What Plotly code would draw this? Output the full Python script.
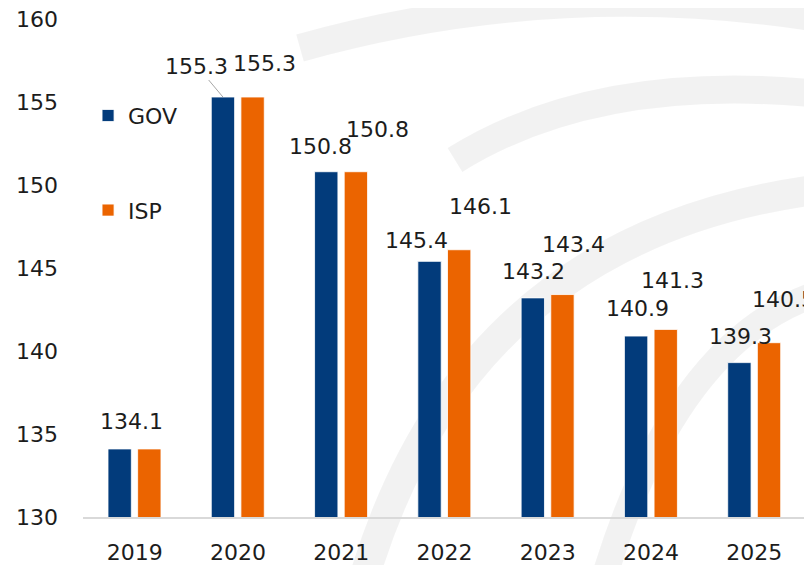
import plotly.graph_objects as go

years = ["2019", "2020", "2021", "2022", "2023", "2024", "2025"]
gov = [134.1, 155.3, 150.8, 145.4, 143.2, 140.9, 139.3]
isp = [134.1, 155.3, 150.8, 146.1, 143.4, 141.3, 140.5]

# label placement offsets (pixels) relative to category centre / bar top
gov_dx = [-3, -41, -21, -28, -14, -14, -14]
gov_dy = [27, 29, 25, 21, 26, 28, 26]
isp_dx = [-3, 27, 36, 36, 26, 21, 29]
isp_dy = [27, 34, 42, 43, 50, 49, 43]

GOV_C = "#023B7B"
ISP_C = "#EB6400"
TXT = "#1c1c1c"
FONT = "DejaVu Sans"
FS = 22

# page body has an 8px margin, so the figure is sized to end at the window edge
OFF = 8
W, H = 812 - OFF, 565 - OFF
L, R, T, B = 83 - OFF, 6, 19 - OFF, 48
PW, PH = W - L - R, H - T - B


def px(x, y):
    xf, yf = x - OFF, y - OFF
    return ((xf - L) / PW, (H - B - yf) / PH)


def arc(p0, c, p1):
    a, b, d = px(*p0), px(*c), px(*p1)
    return f"M {a[0]},{a[1]} Q {b[0]},{b[1]} {d[0]},{d[1]}"


fig = go.Figure()
fig.add_trace(go.Bar(x=years, y=gov, name="GOV", marker=dict(color=GOV_C, line=dict(color="white", width=0.8)),
                     width=0.226, offset=-0.258, legendgroup="g"))
fig.add_trace(go.Bar(x=years, y=isp, name="ISP", marker=dict(color=ISP_C, line=dict(color="white", width=0.8)),
                     width=0.226, offset=0.029, legendgroup="i"))

ann = []
for i, yr in enumerate(years):
    if yr == "2020":
        ann.append(dict(x=i, y=gov[i], xref="x", yref="y", text=f"{gov[i]:.1f}", xshift=-15,
                        showarrow=True, arrowhead=0, arrowwidth=1, arrowcolor="#a6a6a6",
                        ax=-26, ay=-31, standoff=0, font=dict(size=FS, color=TXT, family=FONT)))
    else:
        ann.append(dict(x=i, y=gov[i], xref="x", yref="y", text=f"{gov[i]:.1f}", showarrow=False,
                        xshift=gov_dx[i], yshift=gov_dy[i], xanchor="center", yanchor="middle",
                        font=dict(size=FS, color=TXT, family=FONT)))
    if yr == "2019":
        continue  # ISP label coincides with the GOV one in the reference
    ann.append(dict(x=i, y=isp[i], xref="x", yref="y", text=f"{isp[i]:.1f}", showarrow=False,
                    xshift=isp_dx[i], yshift=isp_dy[i], xanchor="center", yanchor="middle",
                    font=dict(size=FS, color=TXT, family=FONT)))

wm = "rgba(0,0,0,0.05)"
shapes = [
    dict(type="path", path=arc((300, 48), (560, -25), (830, 20)), line=dict(color=wm, width=28)),
    dict(type="path", path=arc((455, 160), (600, 70), (830, 95)), line=dict(color=wm, width=28)),
    dict(type="path", path=arc((365, 575), (470, 230), (830, 188)), line=dict(color=wm, width=30)),
    dict(type="path", path=arc((605, 575), (680, 330), (830, 290)), line=dict(color=wm, width=26)),
]
for s in shapes:
    s.update(xref="paper", yref="paper", layer="below")

fig.update_layout(
    width=W, height=H,
    margin=dict(l=L, r=R, t=T, b=B, pad=0, autoexpand=False),
    paper_bgcolor="white", plot_bgcolor="rgba(0,0,0,0)",
    barmode="overlay",
    font=dict(family=FONT, size=FS, color=TXT),
    showlegend=True,
    legend=dict(x=0.007, y=0.848, xanchor="left", yanchor="top", bgcolor="rgba(0,0,0,0)",
                font=dict(size=FS, color=TXT, family=FONT), traceorder="grouped",
                tracegroupgap=63),
    annotations=ann,
    shapes=shapes,
)
fig.update_xaxes(type="category", range=[-0.5, 6.5], automargin=False, showgrid=False, zeroline=False,
                 showline=True, linecolor="#d9d9d9", linewidth=1.5, ticks="", ticklabelstandoff=15,
                 ticklabeloverflow="allow", tickfont=dict(size=FS, color=TXT, family=FONT))
fig.update_yaxes(range=[130, 160], dtick=5, tick0=130, automargin=False, showgrid=False, zeroline=False,
                 showline=False, ticks="", ticklabelstandoff=24, ticklabeloverflow="allow",
                 tickfont=dict(size=FS, color=TXT, family=FONT))

fig.write_html("out.html")
